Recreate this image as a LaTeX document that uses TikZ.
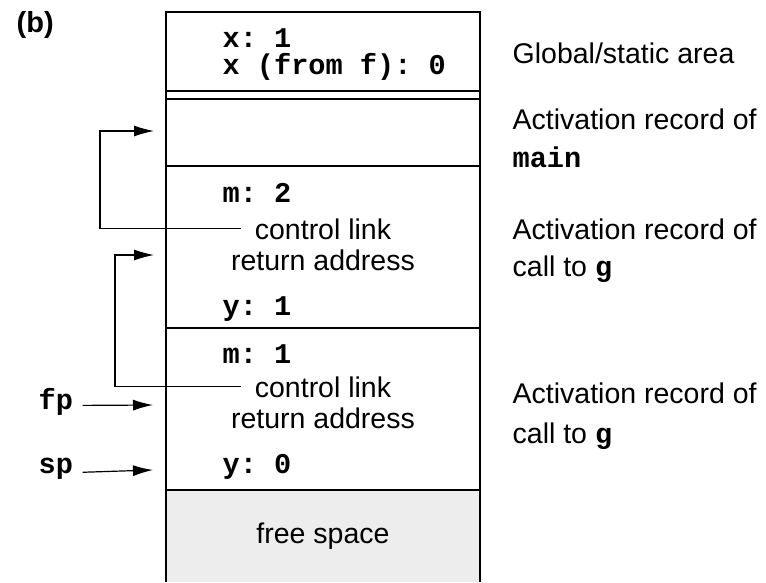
\documentclass[tikz,border=0pt]{standalone}
\usepackage{fontspec}
\setmainfont{Liberation Sans}
\setmonofont{Liberation Mono}
\usetikzlibrary{arrows.meta}
\tikzset{
  code/.style={font=\ttfamily\bfseries\fontsize{28.6}{34}\selectfont, anchor=base west, inner sep=0pt},
  area/.style={font=\fontsize{28.5}{40}\selectfont, anchor=base west, inner sep=0pt},
  slot/.style={font=\fontsize{28.5}{40}\selectfont, anchor=base, inner sep=0pt},
  ptr/.style={-{Latex[length=20pt,width=11pt]}, line width=1.2pt},
}
\newcommand{\cw}[1]{{\ttfamily\bfseries #1}}

\begin{document}
\begin{tikzpicture}[x=1pt,y=-1pt,line width=1.3pt]
			\useasboundingbox (0,0) rectangle (766,582);
			\fill[black!7] (166,490) rectangle (480,582);
			\draw (166,582) -- (166,12) -- (480,12) -- (480,582);
			\draw (166,91) -- (480,91);
			\draw (166,99) -- (480,99);
			\draw (166,166) -- (480,166);
			\draw (166,328) -- (480,328);
			\draw (166,490) -- (480,490);
			% labels at the left
			\node[font=\bfseries\fontsize{29}{32}\selectfont, anchor=base west, inner sep=0pt] (tag) at (16,32) {(b)};
			\node[code] (fp) at (38,409) {fp};
			\node[code] (sp) at (38,473) {sp};
			% inside the stack
			\node[code] (gx) at (222,47) {x: 1};
			\node[code] (fx) at (222,74) {x (from f): 0};
			\node[code] (mB) at (222,202) {m: 2};
			\node[slot] (ctlB) at (323,239) {control link};
			\node[slot] (retB) at (323,270) {return address};
			\node[code] (yB) at (222,315) {y: 1};
			\node[code] (mA) at (222,363) {m: 1};
			\node[slot] (ctlA) at (323,397) {control link};
			\node[slot] (retA) at (323,428) {return address};
			\node[code] (yA) at (222,473) {y: 0};
			\node[slot] (free) at (323,543) {free space};
			% areas at the right
			\node[area] (glob) at (512,63) {Global/static area};
			\node[area] (arMain) at (512,129) {Activation record of};
			\node[code] (arMainB) at (512,167) {main};
			\node[area] (arG) at (512,239) {Activation record of};
			\node[area] (arGB) at (512,276) {call to \cw{g}};
			\node[area] (arH) at (512,403) {Activation record of};
			\node[area] (arHB) at (512,443) {call to \cw{g}};
			% links
			\coordinate (tipMain) at (154,131);
			\coordinate (bendB) at (100,131);
			\coordinate (tipG) at (154,255);
			\coordinate (bendA) at (115,255);
			\coordinate (tipFp) at (153,405);
			\coordinate (tipSp) at (153,470);
			\draw[ptr] ([xshift=-13pt]ctlB.west) -| (bendB) -- (tipMain);
			\draw[ptr] ([xshift=-13pt]ctlA.west) -| (bendA) -- (tipG);
			\draw[ptr] ([xshift=9pt,yshift=-4pt]fp.east) -- (tipFp);
			\draw[ptr] ([xshift=9pt,yshift=-4pt]sp.east) -- (tipSp);
		      \end{tikzpicture}
\end{document}
